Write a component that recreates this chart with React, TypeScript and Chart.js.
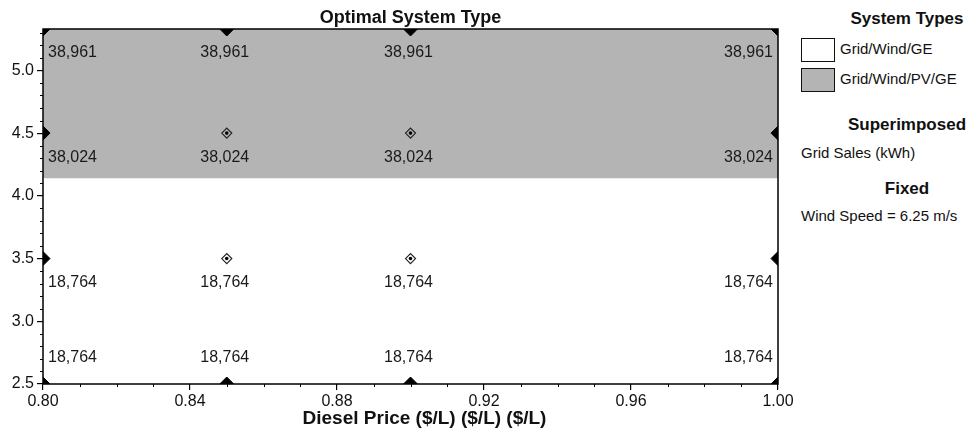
import React, { useEffect, useRef } from 'react';
import { Chart, registerables } from 'chart.js';

Chart.register(...registerables);

// ---- Data ----
const dieselPrices = [0.8, 0.85, 0.9, 1.0];
const sensitivityRows = [2.5, 3.5, 4.5, 5.33];
const gridSalesRow1 = [18764, 18764, 18764, 18764]; // y = 2.5
const gridSalesRow2 = [18764, 18764, 18764, 18764]; // y = 3.5
const gridSalesRow3 = [38024, 38024, 38024, 38024]; // y = 4.5
const gridSalesRow4 = [38961, 38961, 38961, 38961]; // y = 5.33
const gridSalesRows = [gridSalesRow1, gridSalesRow2, gridSalesRow3, gridSalesRow4];
const pvBoundary = 4.14; // above this: Grid/Wind/PV/GE
const xTickValues = [0.8, 0.84, 0.88, 0.92, 0.96, 1.0];
const yTickValues = [2.5, 3.0, 3.5, 4.0, 4.5, 5.0];
const xMin = 0.8;
const xMax = 1.0;
const yMin = 2.5;
const yMax = 5.33;
const xMinorStep = 0.01;
const yMinorStep = 0.1;

const chartTitle = 'Optimal System Type';
const xAxisTitle = 'Diesel Price ($/L) ($/L) ($/L)';

const GRAY = '#b4b4b4';
const FONT = 'Arial, "Liberation Sans", sans-serif';

const fmtSales = (v: number) => v.toLocaleString('en-US');

export default function App() {
  const canvasRef = useRef<HTMLCanvasElement | null>(null);

  useEffect(() => {
    const canvas = canvasRef.current;
    if (!canvas) return;

    const allPoints: { x: number; y: number }[] = [];
    sensitivityRows.forEach((y) => dieselPrices.forEach((x) => allPoints.push({ x, y })));
    const isEdge = (p: { x: number; y: number }) =>
      p.x === xMin || p.x === xMax || p.y === yMin || p.y === yMax;
    const edgePoints = allPoints.filter(isEdge);
    const innerPoints = allPoints.filter((p) => !isEdge(p));

    const overlay = {
      id: 'overlay',
      afterDatasetsDraw(chart: any) {
        const { ctx, chartArea: a, scales } = chart;
        const xs = scales.x;
        const ys = scales.y;
        ctx.save();
        // frame
        ctx.strokeStyle = '#000';
        ctx.lineWidth = 1.5;
        ctx.strokeRect(a.left, a.top, a.right - a.left, a.bottom - a.top);
        // minor ticks
        ctx.lineWidth = 1;
        ctx.beginPath();
        const nx = Math.round((xMax - xMin) / xMinorStep);
        for (let i = 1; i < nx; i++) {
          const v = xMin + i * xMinorStep;
          if (xTickValues.some((t) => Math.abs(t - v) < 1e-6)) continue;
          const px = Math.round(xs.getPixelForValue(v)) + 0.5;
          ctx.moveTo(px, a.bottom);
          ctx.lineTo(px, a.bottom + 3);
        }
        const ny = Math.floor((yMax - yMin) / yMinorStep + 1e-6);
        for (let i = 1; i <= ny; i++) {
          const v = yMin + i * yMinorStep;
          if (yTickValues.some((t) => Math.abs(t - v) < 1e-6)) continue;
          const py = Math.round(ys.getPixelForValue(v)) + 0.5;
          ctx.moveTo(a.left, py);
          ctx.lineTo(a.left - 3, py);
        }
        ctx.stroke();
        // value labels
        ctx.fillStyle = '#1a1a1a';
        ctx.font = `16px ${FONT}`;
        ctx.textBaseline = 'middle';
        sensitivityRows.forEach((yv, ri) => {
          dieselPrices.forEach((xv, ci) => {
            const px = xs.getPixelForValue(xv);
            const py = ys.getPixelForValue(yv);
            let tx = px;
            if (ci === 0) {
              ctx.textAlign = 'left';
              tx = px + 5;
            } else if (ci === dieselPrices.length - 1) {
              ctx.textAlign = 'right';
              tx = px - 5;
            } else {
              ctx.textAlign = 'center';
              tx = px - 2;
            }
            const ty = ri === 0 ? py - 26 : py + 24;
            ctx.fillText(fmtSales(gridSalesRows[ri][ci]), tx, ty);
          });
        });
        // titles
        ctx.fillStyle = '#111';
        ctx.textAlign = 'center';
        ctx.font = `bold 18px ${FONT}`;
        ctx.fillText(chartTitle, (a.left + a.right) / 2, 18);
        ctx.font = `bold 19px ${FONT}`;
        ctx.fillText(xAxisTitle, (a.left + a.right) / 2 + 14, 419);
        ctx.restore();
      },
    };

    const chart = new Chart(canvas, {
      type: 'scatter',
      data: {
        datasets: [
          {
            label: 'Grid/Wind/PV/GE',
            type: 'line',
            data: [
              { x: xMin, y: pvBoundary },
              { x: xMax, y: pvBoundary },
            ],
            fill: 'end',
            backgroundColor: GRAY,
            borderWidth: 0,
            borderColor: GRAY,
            pointRadius: 0,
            clip: 0,
            order: 10,
          } as any,
          {
            label: 'edge',
            data: edgePoints,
            pointStyle: 'rectRot',
            pointRadius: 7,
            backgroundColor: '#000',
            borderColor: '#000',
            borderWidth: 1,
            clip: 0,
            order: 2,
          } as any,
          {
            label: 'inner',
            data: innerPoints,
            pointStyle: 'rectRot',
            pointRadius: 5,
            backgroundColor: 'rgba(0,0,0,0)',
            borderColor: '#222',
            borderWidth: 1.2,
            order: 1,
          } as any,
          {
            label: 'innerDot',
            data: innerPoints,
            pointStyle: 'circle',
            pointRadius: 1.8,
            backgroundColor: '#000',
            borderColor: '#000',
            borderWidth: 0,
            order: 0,
          } as any,
        ],
      },
      options: {
        responsive: false,
        animation: false,
        devicePixelRatio: 1,
        layout: { padding: { top: 29, right: 22, left: 0, bottom: 0 } },
        plugins: {
          legend: { display: false },
          tooltip: { enabled: false },
          title: { display: false },
        },
        scales: {
          x: {
            type: 'linear',
            min: xMin,
            max: xMax,
            afterBuildTicks: (s: any) => {
              s.ticks = xTickValues.map((v) => ({ value: v }));
            },
            afterFit: (s: any) => {
              s.height = 45;
            },
            ticks: {
              callback: (v: any) => Number(v).toFixed(2),
              font: { family: FONT, size: 16 },
              color: '#111',
              padding: 2,
              maxRotation: 0,
              autoSkip: false,
            },
            grid: { display: true, drawOnChartArea: false, tickLength: 6, color: '#000', lineWidth: 1.2 },
            border: { display: false },
          },
          y: {
            type: 'linear',
            min: yMin,
            max: yMax,
            afterBuildTicks: (s: any) => {
              s.ticks = yTickValues.map((v) => ({ value: v }));
            },
            afterFit: (s: any) => {
              s.width = 43;
            },
            ticks: {
              callback: (v: any) => Number(v).toFixed(1),
              font: { family: FONT, size: 16 },
              color: '#111',
              padding: 3,
              autoSkip: false,
            },
            grid: { display: true, drawOnChartArea: false, tickLength: 6, color: '#000', lineWidth: 1.2 },
            border: { display: false },
          },
        },
      },
      plugins: [overlay],
    });

    return () => chart.destroy();
  }, []);

  const header = (text: string, cy: number) => (
    <div
      style={{
        position: 'absolute',
        left: 845,
        width: 124,
        top: cy - 11,
        height: 22,
        lineHeight: '22px',
        textAlign: 'center',
        font: `bold 17px ${FONT}`,
        color: '#111',
        whiteSpace: 'nowrap',
      }}
    >
      {text}
    </div>
  );
  const body = (text: string, left: number, cy: number) => (
    <div
      style={{
        position: 'absolute',
        left,
        top: cy - 10,
        height: 20,
        lineHeight: '20px',
        font: `15px ${FONT}`,
        color: '#111',
        whiteSpace: 'nowrap',
      }}
    >
      {text}
    </div>
  );
  const box = (fill: string, top: number) => (
    <div
      style={{
        position: 'absolute',
        left: 801,
        top,
        width: 34,
        height: 24,
        boxSizing: 'border-box',
        border: '1.5px solid #111',
        background: fill,
      }}
    />
  );

  return (
    <div style={{ position: 'absolute', left: 0, top: 0, width: 971, height: 429, background: '#fff', overflow: 'hidden' }}>
      <canvas ref={canvasRef} width={800} height={429} style={{ position: 'absolute', left: 0, top: 0, display: 'block' }} />
      {header('System Types', 20)}
      {box('#fff', 38)}
      {body('Grid/Wind/GE', 840, 50)}
      {box(GRAY, 68)}
      {body('Grid/Wind/PV/GE', 840, 80)}
      {header('Superimposed', 126)}
      {body('Grid Sales (kWh)', 801, 154)}
      {header('Fixed', 190)}
      {body('Wind Speed = 6.25 m/s', 801, 217)}
    </div>
  );
}
